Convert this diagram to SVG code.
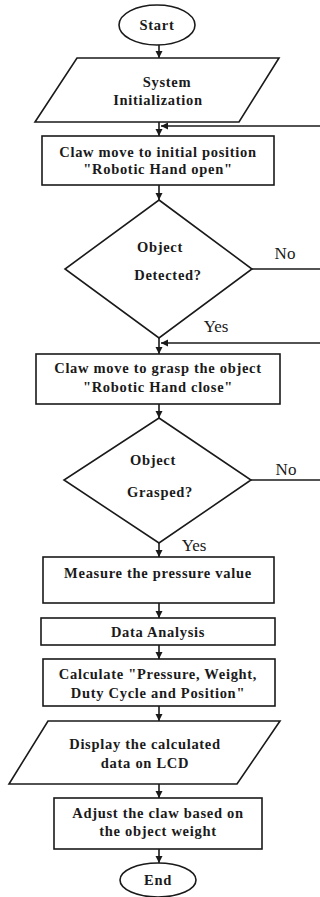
<svg xmlns="http://www.w3.org/2000/svg" width="320" height="897" viewBox="0 0 320 897">
<style>
.s{fill:#fff;stroke:#1a1a1a;stroke-width:1.6}
.t{font-family:"Liberation Serif","Times New Roman",serif;font-weight:bold;font-size:14.5px;letter-spacing:0.7px;fill:#1a1a1a;text-anchor:middle}
.l{font-family:"Liberation Serif","Times New Roman",serif;font-size:17px;fill:#1a1a1a;text-anchor:middle}
.c{fill:none;stroke:#1a1a1a;stroke-width:1.6}
</style>
<defs>
<marker id="a" markerUnits="userSpaceOnUse" markerWidth="8" markerHeight="8" refX="7" refY="4" orient="auto">
<path d="M0,0.5 L7,4 L0,7.5 Z" fill="#1a1a1a"/>
</marker>
</defs>
<rect width="320" height="897" fill="#fff"/>
<g id="connectors">
<line class="c" x1="159" y1="45" x2="159" y2="58" marker-end="url(#a)"/>
<line class="c" x1="159" y1="122" x2="159" y2="136" marker-end="url(#a)"/>
<line class="c" x1="320" y1="126" x2="161" y2="126" marker-end="url(#a)"/>
<line class="c" x1="159" y1="185" x2="159" y2="200" marker-end="url(#a)"/>
<line class="c" x1="252" y1="269" x2="320" y2="269"/>
<line class="c" x1="159" y1="338" x2="159" y2="354" marker-end="url(#a)"/>
<line class="c" x1="320" y1="343" x2="161" y2="343" marker-end="url(#a)"/>
<line class="c" x1="159" y1="404" x2="159" y2="418" marker-end="url(#a)"/>
<line class="c" x1="251" y1="480" x2="320" y2="480"/>
<line class="c" x1="159" y1="543" x2="159" y2="557" marker-end="url(#a)"/>
<line class="c" x1="159" y1="603" x2="159" y2="618" marker-end="url(#a)"/>
<line class="c" x1="159" y1="645" x2="159" y2="659" marker-end="url(#a)"/>
<line class="c" x1="159" y1="706" x2="159" y2="721" marker-end="url(#a)"/>
<line class="c" x1="159" y1="784" x2="159" y2="798" marker-end="url(#a)"/>
<line class="c" x1="159" y1="849" x2="159" y2="863" marker-end="url(#a)"/>
<text class="l" x="285" y="259">No</text>
<text class="l" x="216" y="332">Yes</text>
<text class="l" x="286" y="475">No</text>
<text class="l" x="194" y="551">Yes</text>
</g>
<g id="start">
<ellipse class="s" cx="157" cy="25" rx="38" ry="20"/>
<text class="t" x="157" y="30">Start</text>
</g>
<g id="init">
<polygon class="s" points="77,58 279,58 239,122 35,122"/>
<text class="t" x="167" y="87">System</text>
<text class="t" x="158" y="105">Initialization</text>
</g>
<g id="open">
<rect class="s" x="42" y="136" width="232" height="49"/>
<text class="t" x="158" y="157">Claw move to initial position</text>
<text class="t" x="158" y="174">"Robotic Hand open"</text>
</g>
<g id="detected">
<polygon class="s" points="159,200 252,269 159,338 65,269"/>
<text class="t" x="160" y="252">Object</text>
<text class="t" x="168" y="280">Detected?</text>
</g>
<g id="close">
<rect class="s" x="36" y="354" width="244" height="50"/>
<text class="t" x="158" y="373">Claw move to grasp the object</text>
<text class="t" x="158" y="392">"Robotic Hand close"</text>
</g>
<g id="grasped">
<polygon class="s" points="159,418 251,480 159,543 64,480"/>
<text class="t" x="153" y="465">Object</text>
<text class="t" x="160" y="497">Grasped?</text>
</g>
<g id="measure">
<rect class="s" x="43" y="557" width="231" height="46"/>
<text class="t" x="158" y="578">Measure the pressure value</text>
</g>
<g id="analysis">
<rect class="s" x="41" y="618" width="234" height="27"/>
<text class="t" x="158" y="637">Data Analysis</text>
</g>
<g id="calculate">
<rect class="s" x="43" y="659" width="232" height="47"/>
<text class="t" x="158" y="679">Calculate "Pressure, Weight,</text>
<text class="t" x="158" y="698">Duty Cycle and Position"</text>
</g>
<g id="display">
<polygon class="s" points="48,721 280,721 237,784 9,784"/>
<text class="t" x="145" y="749">Display the calculated</text>
<text class="t" x="145" y="768">data on LCD</text>
</g>
<g id="adjust">
<rect class="s" x="54" y="798" width="208" height="51"/>
<text class="t" x="158" y="818">Adjust the claw based on</text>
<text class="t" x="158" y="836">the object weight</text>
</g>
<g id="end">
<ellipse class="s" cx="158" cy="880" rx="38" ry="17"/>
<text class="t" x="158" y="885">End</text>
</g>
</svg>
